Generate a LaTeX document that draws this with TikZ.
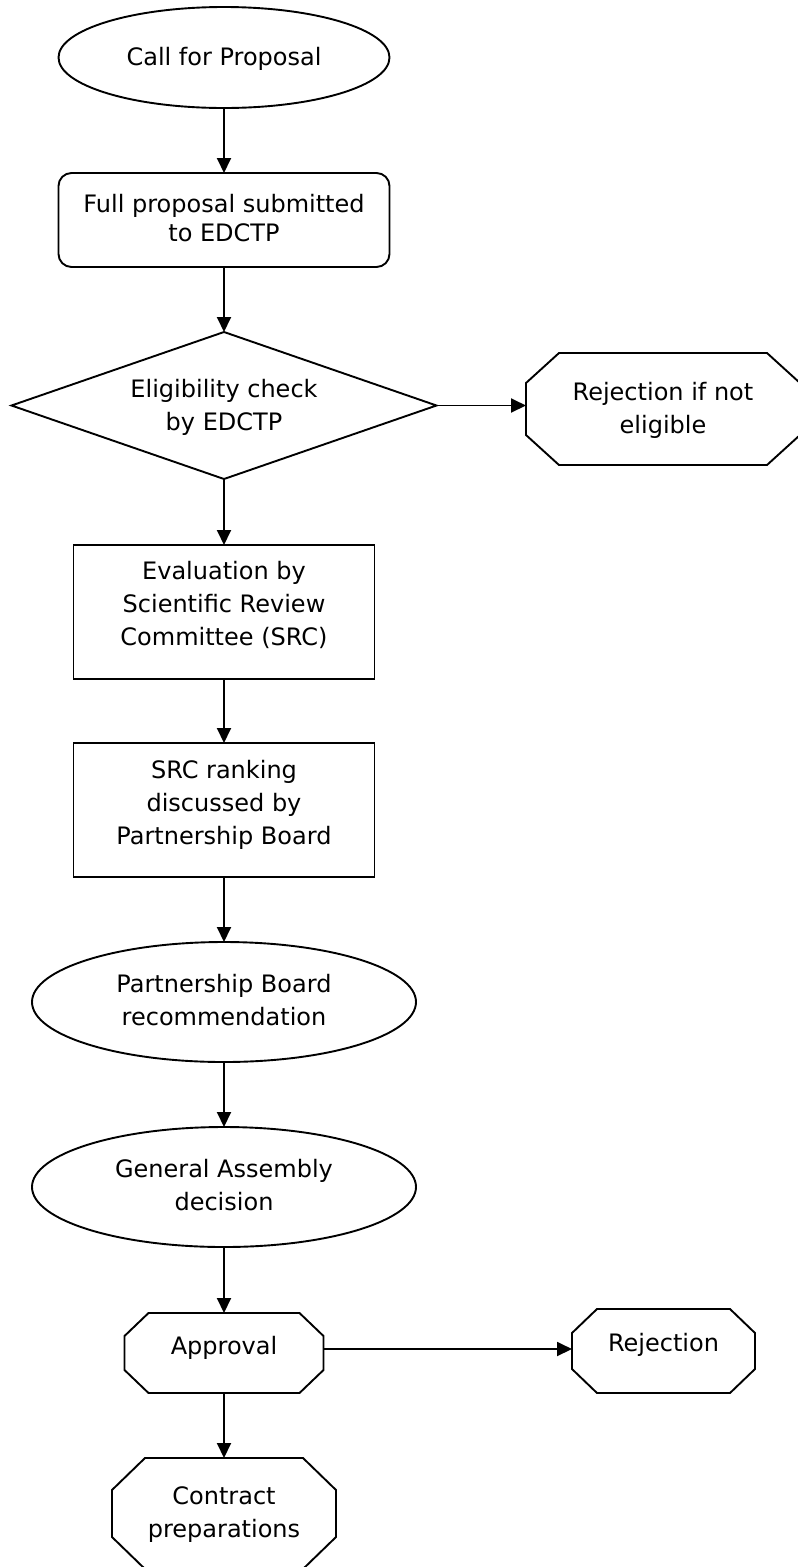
\documentclass[tikz,border=0pt]{standalone}
\usepackage{fontspec}
\setmainfont{DejaVu Sans}
\usetikzlibrary{shapes.geometric,arrows.meta}
\tikzset{
  ln/.style={line width=1.9pt},
  arr/.style={ln,-{Triangle[length=15pt,width=14pt]}},
  shp/.style={draw,ln,inner sep=0pt,outer sep=0pt},
  anch/.style={rectangle,inner sep=0pt,outer sep=0pt},
  txt/.style={align=center,inner sep=0pt,font=\fontsize{24}{33}\selectfont},
}
\newcommand\octdraw[3]{\draw[ln,line join=miter] ([xshift=#2pt]#1.north west) -- ([xshift=-#2pt]#1.north east) -- ([yshift=-#3pt]#1.north east) -- ([yshift=#3pt]#1.south east) -- ([xshift=-#2pt]#1.south east) -- ([xshift=#2pt]#1.south west) -- ([yshift=#3pt]#1.south west) -- ([yshift=-#3pt]#1.north west) -- cycle;}
\begin{document}
\begin{tikzpicture}[x=1pt,y=-1pt]
\useasboundingbox[fill=white] (0,0) rectangle (798,1567);
% shapes
\node[shp,ellipse,minimum width=331pt,minimum height=101pt] (e1) at (224,57.5) {};
\node[shp,rectangle,rounded corners=13pt,minimum width=331pt,minimum height=94pt] (r1) at (224,220) {};
\node[shp,diamond,minimum width=425pt,minimum height=147pt] (d1) at (224,405.5) {};
\node[anch,minimum width=274pt,minimum height=112pt] (o1) at (663,409) {};
\octdraw{o1}{33}{30}
\node[shp,rectangle,minimum width=301pt,minimum height=134pt] (r2) at (224,612) {};
\node[shp,rectangle,minimum width=301pt,minimum height=134pt] (r3) at (224,810) {};
\node[shp,ellipse,minimum width=384pt,minimum height=120pt] (e2) at (224,1002) {};
\node[shp,ellipse,minimum width=384pt,minimum height=120pt] (e3) at (224,1187) {};
\node[anch,minimum width=199pt,minimum height=80pt] (o2) at (224,1353) {};
\octdraw{o2}{24}{23}
\node[anch,minimum width=183pt,minimum height=84pt] (o3) at (663.5,1351) {};
\octdraw{o3}{25}{24}
\node[anch,minimum width=224pt,minimum height=111pt] (o4) at (224,1513.5) {};
\octdraw{o4}{33}{32}
% texts
\node[txt] (t1) at (224,59) {Call for Proposal};
\node[txt,font=\fontsize{24}{29}\selectfont] (t2) at (224,218.5) {Full proposal submitted\\to EDCTP};
\node[txt] (t3) at (224,407.5) {Eligibility check\\by EDCTP};
\node[txt] (t4) at (663,410) {Rejection if not\\eligible};
\node[txt] (t5) at (224,605) {Evaluation by\\Scientific Review\\Committee (SRC)};
\node[txt] (t6) at (224,805) {SRC ranking\\discussed by\\Partnership Board};
\node[txt] (t7) at (224,1000) {Partnership Board\\recommendation};
\node[txt] (t8) at (224,1185.5) {General Assembly\\decision};
\node[txt] (t9) at (224,1348) {Approval};
\node[txt] (t10) at (663.5,1345) {Rejection};
\node[txt] (t11) at (224,1514.5) {Contract\\preparations};
% connectors
\draw[arr] (e1.south) -- (r1.north);
\draw[arr] (r1.south) -- (d1.north);
\draw[arr] (d1.east) -- (d1.east -| o1.west);
\draw[arr] (d1.south) -- (r2.north);
\draw[arr] (r2.south) -- (r3.north);
\draw[arr] (r3.south) -- (e2.north);
\draw[arr] (e2.south) -- (e3.north);
\draw[arr] (e3.south) -- (o2.north);
\coordinate (a2) at ([yshift=4pt]o2.east);
\draw[arr] (a2) -- (a2 -| o3.west);
\draw[arr] (o2.south) -- (o4.north);
\end{tikzpicture}
\end{document}
